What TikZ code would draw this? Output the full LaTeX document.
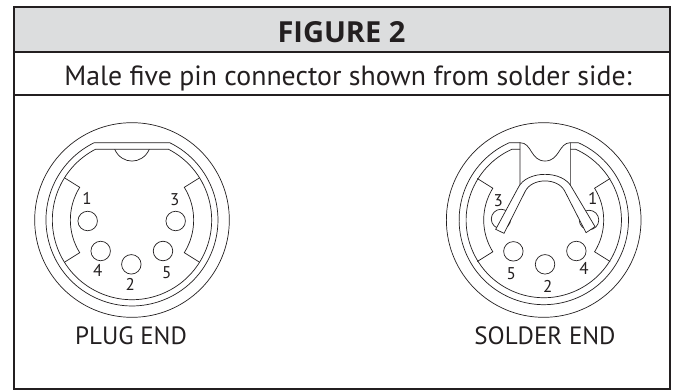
\documentclass[tikz,border=0pt]{standalone}
\usepackage{fontspec}
\setmainfont{PT Sans}
\newfontfamily\titlefont{Open Sans}
\usetikzlibrary{positioning}
\definecolor{bandgrey}{HTML}{DCDDDE}
\definecolor{inkdark}{HTML}{231F20}
\tikzset{
  frameline/.style={draw=inkdark, line width=2pt},
  ring/.style={draw=inkdark, line width=0.7pt},
  pin/.style={circle, draw=inkdark, line width=0.7pt, minimum size=19.5pt, inner sep=0pt},
  pinlabel/.style={font=\fontsize{17}{17}\selectfont, text=inkdark, inner sep=0pt},
  endlabel/.style={font=\fontsize{25}{27}\selectfont, text=inkdark, inner sep=0pt, anchor=base}
}
\begin{document}
\begin{tikzpicture}[x=1pt, y=1pt]
    \useasboundingbox (0,0) rectangle (675,-391);
    \fill[white] (0,0) rectangle (675,-391);
    \path[fill=bandgrey] (13.5,-7) rectangle (670,-52);
    \draw[frameline] (13.5,-7) rectangle (670,-389);
    \draw[frameline] (13.5,-52) -- (670,-52);
    \draw[frameline] (13.5,-95) -- (670,-95);
    \node[font=\fontsize{29}{30}\selectfont\titlefont\bfseries, text=inkdark, anchor=base, inner sep=0pt] (title) at (341.5,-42) {FIGURE 2};
    \node[font=\fontsize{27.8}{30}\selectfont, text=inkdark, anchor=base, inner sep=0pt] (caption) at (348,-85) {Male five pin connector shown from solder side:};
    % plug end
    \begin{scope}[shift={(132,-220)}, x=0.3333pt, y=0.3333pt]
      \draw[ring] (0,0) circle (292);
      \draw[ring] (-113,232) -- (113,232) arc[start angle=64, end angle=-244, radius=258] -- cycle;
      \draw[ring] (-110,212) -- (110,212) arc[start angle=62.6, end angle=-242.6, radius=239] -- cycle;
      \draw[ring] (-52,212) .. controls (-30,165) and (30,165) .. (52,212);
      \foreach \a/\b in {148/212, 32/-32} {
        \draw[ring] (\a:239) -- (\a:185) arc[start angle=\a, end angle=\b, radius=185] -- (\b:239);
      }
      \node[pin] (p1) at (-133,-3) {};
      \node[pin] (p4) at (-94,-93) {};
      \node[pin] (p2) at (-2,-133) {};
      \node[pin] (p5) at (93,-93) {};
      \node[pin] (p3) at (131,-3) {};
      \node[pinlabel] at (-135,64) {1};
      \node[pinlabel] at (128,60) {3};
      \node[pinlabel] at (-103,-152) {4};
      \node[pinlabel] at (-5,-192) {2};
      \node[pinlabel] at (104,-157) {5};
    \end{scope}
    \node[endlabel] (plug) at (131,-344) {PLUG END};
    % solder end
    \begin{scope}[shift={(543.7,-220)}, x=0.3333pt, y=0.3333pt]
      \draw[ring] (0,0) circle (292);
      \draw[ring] (-71,232) -- (-103,232) arc[start angle=114, end angle=426, radius=254] -- (80,232);
      \draw[ring] (-71,212) -- (-96,212) arc[start angle=114.4, end angle=425.6, radius=233] -- (80,212);
      \draw[ring] (-71,98) -- (-71,232) .. controls (-35,232) and (-40,177) .. (4,177)
        .. controls (48,177) and (45,232) .. (80,232) -- (80,98);
      \foreach \a/\b in {148/212, 32/-32} {
        \draw[ring] (\a:235) -- (\a:180) arc[start angle=\a, end angle=\b, radius=180] -- (\b:235);
      }
      \node[pin] (s3) at (-128,3) {};
      \node[pin] (s1) at (136,0) {};
      \node[pin] (s5) at (-91,-94) {};
      \node[pin] (s2) at (4,-133) {};
      \node[pin] (s4) at (98,-93) {};
      \draw[ring, fill=white] (-144,-28) -- (-76,98) .. controls (-50,150) and (58,150) .. (84,98) -- (154,-20)
        -- (127,-38) -- (64,85) .. controls (44,128) and (-36,128) .. (-56,85) -- (-119,-40) -- cycle;
      \node[pinlabel] at (-136,58) {3};
      \node[pinlabel] at (147,65) {1};
      \node[pinlabel] at (-97,-160) {5};
      \node[pinlabel] at (12,-198) {2};
      \node[pinlabel] at (121,-145) {4};
    \end{scope}
    \node[endlabel] (solder) at (545,-344) {SOLDER END};
  \end{tikzpicture}
\end{document}
